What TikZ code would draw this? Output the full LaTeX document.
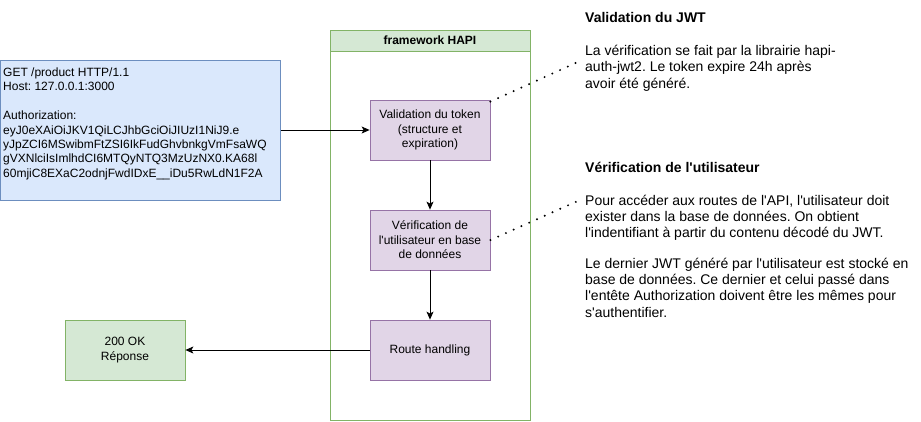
\documentclass[tikz,border=0pt]{standalone}
\usepackage{fontspec}
\setmainfont{Liberation Sans}[Ligatures=TeXOff]
\usetikzlibrary{arrows.meta}
\frenchspacing
\definecolor{bluefill}{HTML}{DAE8FC}
\definecolor{blueline}{HTML}{6C8EBF}
\definecolor{greenfill}{HTML}{D5E8D4}
\definecolor{greenline}{HTML}{82B366}
\definecolor{purplefill}{HTML}{E1D5E7}
\definecolor{purpleline}{HTML}{9673A6}
\tikzset{
  x=1pt, y=-1pt,
  procbox/.style={draw=purpleline, fill=purplefill, line width=0.8pt, minimum width=120pt, minimum height=60pt, inner sep=0pt, align=center, font=\fontsize{12}{14.4}\selectfont},
  flow/.style={line width=0.8pt, -{Stealth[length=8pt,width=7pt,inset=2pt]}},
  dotline/.style={line width=2.2pt, line cap=round, dash pattern=on 0pt off 8.5pt},
  bodytext/.style={anchor=north west, align=left, inner sep=0pt, font=\fontsize{14}{16.4}\selectfont\frenchspacing},
  headtext/.style={anchor=north west, align=left, inner sep=0pt, font=\fontsize{14}{16.4}\selectfont\bfseries},
}
\begin{document}
\begin{tikzpicture}
\useasboundingbox (0,0) rectangle (921,421);
% request box
\node[draw=blueline, fill=bluefill, line width=0.8pt, minimum width=280pt, minimum height=140pt, inner sep=0pt] (req) at (140.5,130) {};
\node[anchor=north west, align=left, inner sep=0pt, font=\fontsize{12}{14.4}\selectfont] (reqtext) at (3,67.5) {GET /product HTTP/1.1\\Host: 127.0.0.1:3000\\[14.4pt]Authorization:\\eyJ0eXAiOiJKV1QiLCJhbGciOiJIUzI1NiJ9.e\\yJpZCI6MSwibmFtZSI6IkFudGhvbnkgVmFsaWQ\\gVXNlciIsImlhdCI6MTQyNTQ3MzUzNX0.KA68l\\60mjiC8EXaC2odnjFwdIDxE\_\_iDu5RwLdN1F2A};
% container
\node[draw=greenline, line width=0.8pt, minimum width=200pt, minimum height=369pt, inner sep=0pt] (cont) at (430,235.5) {};
\node[draw=greenline, fill=greenfill, line width=0.8pt, minimum width=200pt, minimum height=21pt, inner sep=0pt, font=\fontsize{12}{14.4}\selectfont\bfseries] (conthead) at (430,40.5) {framework HAPI};
% process boxes
\node[procbox] (b1) at (430,130) {Validation du token\\(structure et\\expiration)};
\node[procbox] (b2) at (430,240) {Vérification de\\l'utilisateur en base\\de données};
\node[procbox] (b3) at (430,350) {Route handling};
% response
\node[draw=greenline, fill=greenfill, line width=0.8pt, minimum width=120pt, minimum height=60pt, inner sep=0pt, align=center, font=\fontsize{12}{14.4}\selectfont] (resp) at (125,350) {200 OK\\Réponse};
% arrows
\draw[flow] (req.east) -- (b1.west);
\draw[flow] (b1.south) -- (b2.north);
\draw[flow] (b2.south) -- (b3.north);
\draw[flow] (b3.west) -- (resp.east);
% annotations
\node[headtext] (h1) at (585,12) {Validation du JWT};
\node[bodytext] (p1) at (585,45) {La vérification se fait par la librairie hapi-\\auth-jwt2. Le token expire 24h après\\avoir été généré.};
\node[headtext] (h2) at (585,162) {Vérification de l'utilisateur};
\node[bodytext] (p2) at (585,194.5) {Pour accéder aux routes de l'API, l'utilisateur doit\\exister dans la base de données. On obtient\\l'indentifiant à partir du contenu décodé du JWT.};
\node[bodytext] (p3) at (585,257.5) {Le dernier JWT généré par l'utilisateur est stocké en\\base de données. Ce dernier et celui passé dans\\l'entête Authorization doivent être les mêmes pour\\s'authentifier.};
\coordinate (d1) at (580,61);
\coordinate (d2) at (580,200);
\draw[dotline] (b1.north east) ++(0,2) -- (d1);
\draw[dotline] (b2.east) -- (d2);
\end{tikzpicture}
\end{document}
